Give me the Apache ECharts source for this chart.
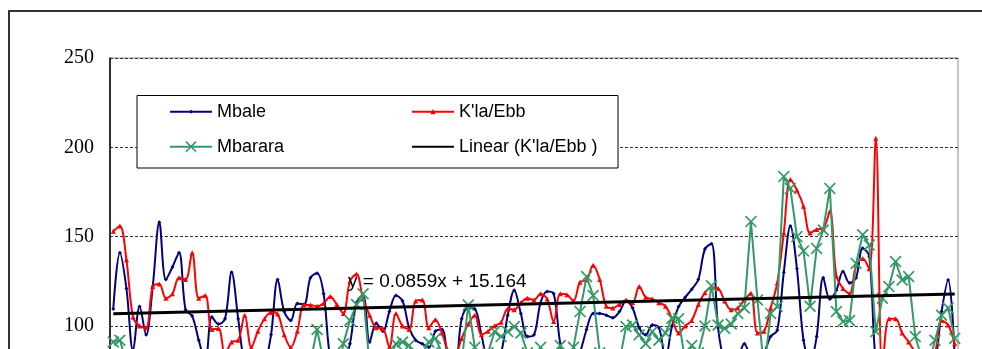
<!DOCTYPE html>
<html>
<head>
<meta charset="utf-8">
<script src="https://cdn.jsdelivr.net/npm/echarts@6/dist/echarts.min.js"></script>
<style>
  html, body { margin: 0; padding: 0; background: #fff; overflow: hidden; }
  #chart { width: 982px; height: 560px; }
</style>
</head>
<body>
<div id="chart"></div>
<script>
// y axis ticks (the picture is cut off below 100)
const yTicks = [0, 50, 100, 150, 200, 250];

// K'la/Ebb
const klaEbb = [
  153, 156, 137, 105, 100, 99, 122, 123.5, 115.5, 118,
  127, 126, 141, 115.5, 117, 98, 98.6, 84, 91, 92,
  106, 88, 97, 104, 107.5, 106.6, 95, 88, 97, 111.7,
  111.7, 111, 112.6, 116.5, 112, 107, 125, 129, 115, 106,
  99, 98.6, 88, 107, 100, 98, 114, 114.5, 99, 103.5,
  96, 86, 85, 93, 101, 106, 95, 97, 100, 102,
  109.5, 109, 113, 115.5, 114.5, 118, 115, 102.4, 118, 117.5,
  114, 124.5, 125.7, 134, 126, 111, 110, 112, 114.5, 113,
  122, 116, 115, 113, 111, 104, 96, 100, 103, 112,
  118.5, 121.5, 121, 114, 109, 110, 114.5, 118.3, 96, 97,
  110, 124, 152, 182, 176, 167, 152, 154, 154.6, 164,
  128, 121, 118, 134, 137.8, 132, 205, 75, 104, 104,
  96, 91, 85, 80, 80, 85, 103, 100.5, 90
];

// Mbale
const mbale = [
  109.5, 141, 121, 86, 110.8, 95, 122, 158, 126, 133,
  141, 109, 105.5, 92, 80, 105, 101, 104, 130, 104,
  78, 72, 72, 78, 95, 126, 108, 103, 112.6, 112,
  127, 129.5, 118, 82, 75, 78, 90, 113, 117, 91,
  101.5, 97, 108, 117, 114, 99, 92, 90, 88, 97,
  98, 82, 80, 104, 110, 109.5, 95, 80, 78, 85,
  106, 120, 107, 94, 95, 113, 119.2, 118, 90, 78,
  76, 85, 98, 107, 107, 106, 104.5, 108, 114, 110,
  99, 95, 100.5, 99, 82, 100, 110.8, 116, 120.5, 126,
  143, 146, 99, 80, 78, 82, 90, 82, 80, 85,
  94, 97.5, 130, 156, 132, 92, 80, 94, 127, 115,
  120, 130.4, 124, 127, 143.5, 139, 80, 72, 72, 75,
  78, 75, 72, 74, 76, 80, 108, 125.7, 82
];

// Mbarara
const mbarara = [
  91, 92, 80, 75, 70, 72, 68, 74, 70, 66,
  72, 75, 70, 68, 72, 76, 70, 74, 78, 72,
  70, 76, 78, 74, 70, 75, 78, 72, 76, 78,
  80, 98, 80, 70, 72, 90, 103, 112, 118, 78,
  72, 75, 82, 90, 91, 89, 80, 84, 91, 93,
  85, 75, 72, 80, 111.7, 88, 75, 85, 96.8, 94,
  96.8, 99.6, 96, 85, 80, 88, 78, 82, 89, 80,
  88, 108, 127.6, 117, 85, 72, 70, 80, 99.6, 100.5,
  95, 90, 96.8, 92, 96, 104.3, 104, 80, 89, 85,
  100, 122.5, 100.5, 98.6, 101, 107, 110, 158.4, 114.5, 75,
  107, 110.8, 183.6, 177, 150, 142, 111, 143.4, 153.7, 177,
  108, 102.4, 103, 135, 151, 145.3, 96.8, 115.5, 122, 136,
  125.7, 127.6, 94, 82, 78, 92, 106, 110, 93
];

// linear trend of K'la/Ebb, value at first and last point
const trendStart = 106.8;
const trendEnd = 117.8;
const trendLabel = 'y = 0.0859x + 15.164';

const categories = klaEbb.map((v, i) => i + 1);

const xShape = 'path://M0,1L1,0L5,4L9,0L10,1L6,5L10,9L9,10L5,6L1,10L0,9L4,5Z';

const legendText = {fontFamily: 'Liberation Sans', fontSize: 18, color: '#000', lineHeight: 20};

// one legend per entry so every entry gets its own marker size
function legendAt(name, left, top, itemHeight, extra) {
  return Object.assign({
    data: [name],
    left: left, top: top,
    padding: 0,
    itemWidth: 42, itemHeight: itemHeight,
    textStyle: legendText,
    selectedMode: false,
    z: 30
  }, extra || {});
}

const chart = echarts.init(document.getElementById('chart'));

const option = {
  animation: false,
  grid: {
    left: 110, right: 24, top: 58, height: 446.5,
    show: true, borderColor: '#8c8c8c', borderWidth: 1
  },
  xAxis: {
    type: 'category',
    data: categories,
    boundaryGap: true,
    axisLine: {show: false},
    axisTick: {show: false},
    axisLabel: {show: false},
    splitLine: {show: false}
  },
  yAxis: {
    type: 'value',
    min: yTicks[0],
    max: yTicks[yTicks.length - 1],
    interval: 50,
    axisLine: {show: true, lineStyle: {color: '#000', width: 1.5}},
    axisTick: {show: false},
    axisLabel: {
      margin: 16,
      color: '#000',
      fontFamily: 'Liberation Serif',
      fontSize: 20
    },
    splitLine: {lineStyle: {color: '#333', type: [3, 2], width: 1}}
  },
  legend: [
    legendAt('Mbale', 169, 101.7, 5),
    legendAt('Mbarara', 169, 136.7, 14),
    legendAt("K'la/Ebb", 411, 101.7, 6.5),
    legendAt("Linear (K'la/Ebb )", 411, 136.7, 10, {
      data: [{name: "Linear (K'la/Ebb )", itemStyle: {color: 'rgba(0,0,0,0)', borderWidth: 0}}]
    })
  ],
  graphic: [
    {
      type: 'rect', z: -10, silent: true,
      shape: {x: 9, y: 11, width: 1300, height: 1000},
      style: {fill: 'none', stroke: '#333', lineWidth: 2}
    },
    {
      type: 'rect', z: 20, silent: true,
      shape: {x: 137, y: 95.5, width: 481, height: 72.5},
      style: {fill: '#fff', stroke: '#000', lineWidth: 1}
    },
    {
      type: 'text', z: 25, silent: true,
      left: 348, top: 272,
      style: {text: trendLabel, fontFamily: 'Liberation Sans', fontSize: 19, fill: '#000'}
    }
  ],
  series: [
    {
      name: 'Mbale',
      type: 'line',
      data: mbale,
      smooth: 0.35,
      symbol: 'diamond',
      symbolSize: 4,
      showAllSymbol: true,
      lineStyle: {color: '#000080', width: 2},
      itemStyle: {color: '#000080'},
      z: 3
    },
    {
      name: "K'la/Ebb",
      type: 'line',
      data: klaEbb,
      smooth: 0.35,
      symbol: 'triangle',
      symbolSize: 5,
      showAllSymbol: true,
      lineStyle: {color: '#ff0000', width: 2},
      itemStyle: {color: '#ff0000'},
      z: 4
    },
    {
      name: 'Mbarara',
      type: 'line',
      data: mbarara,
      symbol: xShape,
      symbolSize: 12,
      showAllSymbol: true,
      lineStyle: {color: '#339966', width: 2},
      itemStyle: {color: '#339966'},
      z: 5
    },
    {
      name: "Linear (K'la/Ebb )",
      type: 'line',
      data: [[0, trendStart], [categories.length - 1, trendEnd]],
      symbol: 'none',
      lineStyle: {color: '#000', width: 3},
      itemStyle: {color: '#000'},
      z: 6
    }
  ]
};

chart.setOption(option);
</script>
</body>
</html>
